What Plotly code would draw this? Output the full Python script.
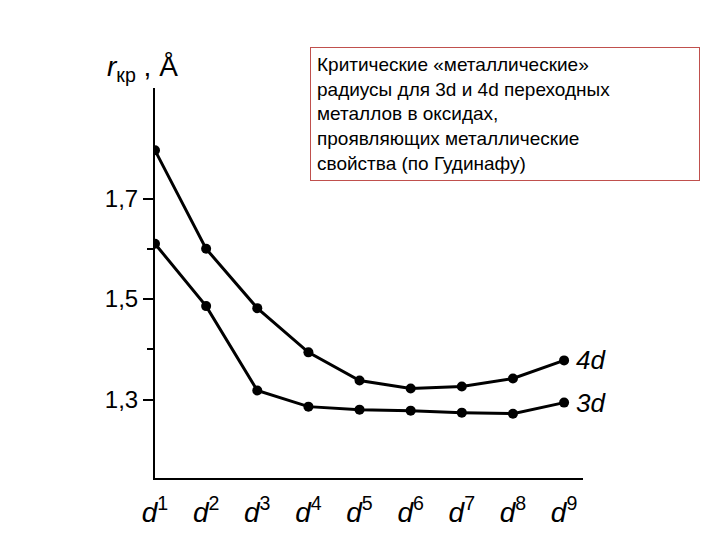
import plotly.graph_objects as go

x = [1, 2, 3, 4, 5, 6, 7, 8, 9]
xlabels = ["<i>d</i><sup>1</sup>", "<i>d</i><sup>2</sup>", "<i>d</i><sup>3</sup>", "<i>d</i><sup>4</sup>", "<i>d</i><sup>5</sup>",
           "<i>d</i><sup>6</sup>", "<i>d</i><sup>7</sup>", "<i>d</i><sup>8</sup>", "<i>d</i><sup>9</sup>"]
r4d = [1.796, 1.60, 1.482, 1.394, 1.338, 1.322, 1.326, 1.342, 1.378]
r3d = [1.61, 1.486, 1.318, 1.286, 1.28, 1.278, 1.274, 1.272, 1.294]
yticks = [1.3, 1.5, 1.7]
ylabels = ["1,3", "1,5", "1,7"]

fig = go.Figure()
for ys, name in [(r4d, "4d"), (r3d, "3d")]:
    fig.add_trace(go.Scatter(x=x, y=ys, mode="lines+markers", name=name,
                             line=dict(color="black", width=3),
                             marker=dict(color="black", size=10)))
    fig.add_annotation(x=x[-1], y=ys[-1], text="<i>" + name + "</i>", showarrow=False,
                       xanchor="left", xshift=10, font=dict(size=26, color="black", family="Liberation Sans"))

fig.add_annotation(xref="paper", yref="paper", x=-0.03, y=1.0, xanchor="center", yanchor="bottom",
                   text="<i>r</i><sub>кр</sub> , Å", showarrow=False,
                   font=dict(size=28, color="black", family="Liberation Sans"))
fig.add_annotation(xref="paper", yref="paper", x=0.362, y=1.105, xanchor="left", yanchor="top",
                   align="left", showarrow=False, bordercolor="#c0504d", borderwidth=1,
                   bgcolor="white", borderpad=6, width=376,
                   text="Критические «металлические»<br>радиусы для 3d и 4d переходных<br>металлов в оксидах,<br>проявляющих металлические<br>свойства (по Гудинафу)",
                   font=dict(size=19, color="black", family="Liberation Sans"))

fig.update_layout(
    width=720, height=540, showlegend=False,
    plot_bgcolor="white", paper_bgcolor="white",
    margin=dict(l=147, r=145, t=80, b=70, autoexpand=False),
    xaxis=dict(range=[1, 9.37], tickvals=x, ticktext=xlabels, showgrid=False, zeroline=False,
               showline=True, linecolor="black", linewidth=2, ticks="", ticklabelstandoff=8,
               automargin=False,
               tickfont=dict(size=28, color="black", family="Liberation Sans")),
    yaxis=dict(range=[1.144, 1.92], tickvals=yticks, ticktext=ylabels, showgrid=False, zeroline=False,
               showline=True, linecolor="black", linewidth=2, ticks="outside", ticklen=10,
               tickwidth=2, tickcolor="black", automargin=False,
               minor=dict(tickvals=[1.4, 1.6], ticks="outside", ticklen=6, tickwidth=2, tickcolor="black"),
               tickfont=dict(size=24, color="black", family="Liberation Sans")),
)
fig.write_html("out.html")
